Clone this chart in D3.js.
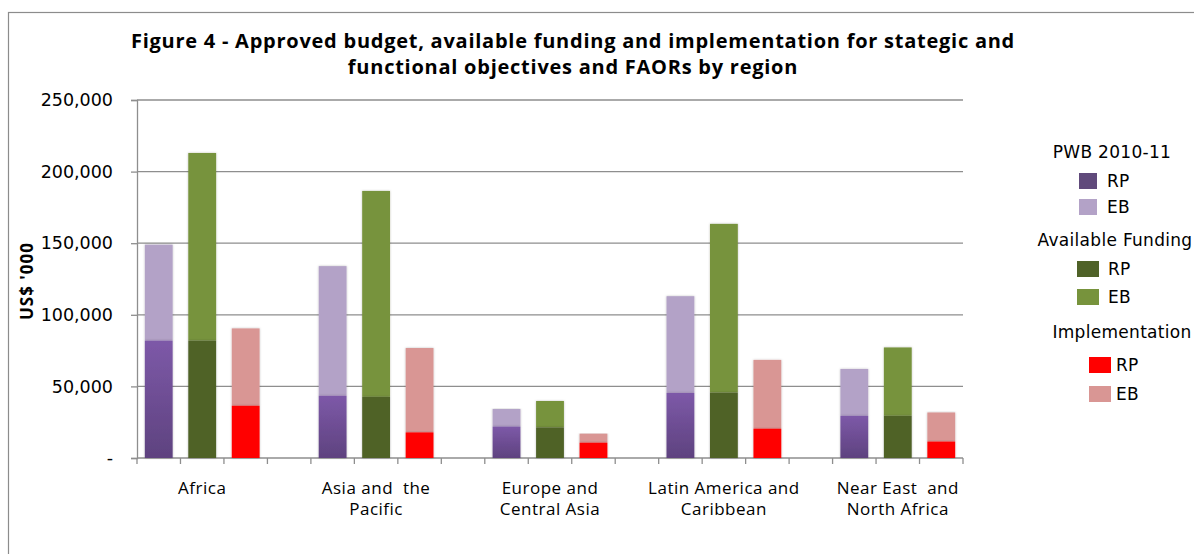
<html> <head>
<script src="https://d3js.org/d3.v7.min.js"></script>
<style>
  body { margin: 0; background: #fff; }
</style>
</head>
<body>
  <div id="chart"></div>
<script>

// data (US$ '000), EB values are the segment stacked on top of RP
const regions = [
  ['Africa'],
  ['Asia and  the', 'Pacific'],
  ['Europe and', 'Central Asia'],
  ['Latin America and', 'Caribbean'],
  ['Near East  and', 'North Africa']
];
const pwbRP   = [82000, 43500, 22000, 45500, 29500];
const pwbEB   = [67000, 90500, 12200, 67500, 32700];
const availRP = [82000, 42700, 21400, 45700, 29500];
const availEB = [131000, 143800, 18400, 117800, 47700];
const implRP  = [36500, 17900, 10700, 20500, 11500];
const implEB  = [54000, 58900, 6300, 48000, 20300];
const yTicks  = [0, 50000, 100000, 150000, 200000, 250000];

const series = [
  {name: 'PWB 2010-11', rp: pwbRP, eb: pwbEB, rpFill: 'url(#purpleGrad)', eb_c: '#b3a2c7', rpLegend: '#604a7b'},
  {name: 'Available Funding', rp: availRP, eb: availEB, rpFill: '#4f6228', eb_c: '#77933c', rpLegend: '#4f6228'},
  {name: 'Implementation', rp: implRP, eb: implEB, rpFill: '#ff0000', eb_c: '#d99694', rpLegend: '#ff0000'}
];

// constants
const W = 1194, H = 554;
const plot = {left: 137, right: 963, top: 100, bottom: 458};

const svg = d3.select('#chart').append('svg')
  .attr('width', W)
  .attr('height', H);

const defs = svg.append('defs');
const grad = defs.append('linearGradient')
  .attr('id', 'purpleGrad')
  .attr('x1', 0).attr('y1', 0).attr('x2', 0).attr('y2', 1);
grad.append('stop').attr('offset', '0%').attr('stop-color', '#7d59a8');
grad.append('stop').attr('offset', '100%').attr('stop-color', '#5e427f');

const shadow = defs.append('filter').attr('id', 'shadow')
  .attr('x', '-20%').attr('y', '-5%').attr('width', '140%').attr('height', '110%');
shadow.append('feDropShadow')
  .attr('dx', 0).attr('dy', 0).attr('stdDeviation', 1.2)
  .attr('flood-color', '#000').attr('flood-opacity', 0.25);

// frame
svg.append('rect')
  .attr('x', 8.5).attr('y', 12.5)
  .attr('width', W).attr('height', H)
  .style('fill', 'none')
  .style('stroke', '#8c8c8c')
  .style('stroke-width', 1.2);

// title
const title = svg.append('text')
  .attr('text-anchor', 'middle')
  .style('font-family', '"Open Sans", sans-serif')
  .style('font-weight', 'bold')
  .style('font-size', '20px')
  .style('letter-spacing', '0.75px')
  .style('fill', '#000');
title.append('tspan').attr('x', 573).attr('y', 48)
  .text('Figure 4 - Approved budget, available funding and implementation for stategic and');
title.append('tspan').attr('x', 573).attr('y', 74)
  .text('functional objectives and FAORs by region');

// scales
const nSlots = regions.length * 4 - 1;
const x = d3.scaleBand()
  .domain(d3.range(nSlots))
  .range([plot.left, plot.right])
  .paddingInner(0.36)
  .paddingOuter(0.18);
const y = d3.scaleLinear()
  .domain([0, 250000])
  .range([plot.bottom, plot.top]);

// gridlines
svg.append('g').selectAll('line')
  .data(yTicks.filter(d => d > 0))
  .join('line')
  .attr('x1', plot.left).attr('x2', plot.right)
  .attr('y1', d => y(d)).attr('y2', d => y(d))
  .style('stroke', '#8e8e8e')
  .style('stroke-width', 1.3);

// y axis
const yAxis = svg.append('g')
  .attr('transform', `translate(${plot.left},0)`)
  .call(d3.axisLeft(y)
    .tickValues(yTicks)
    .tickSize(6)
    .tickPadding(18)
    .tickFormat(d => d === 0 ? '-' : d3.format(',')(d)));
yAxis.select('.domain').style('stroke', '#8e8e8e').style('stroke-width', 1.3);
yAxis.selectAll('.tick line').style('stroke', '#8e8e8e').style('stroke-width', 1.3);
yAxis.selectAll('.tick text')
  .style('font-family', '"DejaVu Sans", sans-serif')
  .style('font-size', '17.5px')
  .style('fill', '#000');

// x axis
const step = x.step();
svg.append('line')
  .attr('x1', plot.left).attr('x2', plot.right)
  .attr('y1', plot.bottom).attr('y2', plot.bottom)
  .style('stroke', '#8e8e8e').style('stroke-width', 1.3);
svg.append('g').selectAll('line')
  .data(d3.range(nSlots + 1))
  .join('line')
  .attr('x1', d => plot.left + d * step).attr('x2', d => plot.left + d * step)
  .attr('y1', plot.bottom).attr('y2', plot.bottom + 6)
  .style('stroke', '#8e8e8e').style('stroke-width', 1.3);

// category labels
regions.forEach((lines, i) => {
  const cx = x(i * 4 + 1) + x.bandwidth() / 2;
  const t = svg.append('text')
    .attr('text-anchor', 'middle')
    .style('font-family', '"Open Sans", sans-serif')
    .style('font-size', '17px')
    .style('letter-spacing', '0.5px')
    .style('fill', '#000')
    .style('white-space', 'pre');
  lines.forEach((l, k) => {
    t.append('tspan').attr('x', cx).attr('y', 494 + k * 21).text(l);
  });
});

// y axis title
svg.append('text')
  .attr('transform', 'translate(33,281) rotate(-90)')
  .attr('text-anchor', 'middle')
  .style('font-family', '"Open Sans", sans-serif')
  .style('font-weight', 'bold')
  .style('font-size', '17px')
  .style('letter-spacing', '1px')
  .text("US$ '000");

// bars
const bars = svg.append('g');
series.forEach((s, j) => {
  regions.forEach((r, i) => {
    const slot = i * 4 + j;
    const rp = s.rp[i], eb = s.eb[i];
    bars.append('rect')
      .attr('x', x(slot))
      .attr('width', x.bandwidth())
      .attr('y', y(rp + eb))
      .attr('height', y(rp) - y(rp + eb))
      .attr('filter', 'url(#shadow)')
      .style('fill', s.eb_c);
    bars.append('rect')
      .attr('x', x(slot))
      .attr('width', x.bandwidth())
      .attr('y', y(rp))
      .attr('height', y(0) - y(rp))
      .attr('filter', 'url(#shadow)')
      .style('fill', s.rpFill);
  });
});

// legend
const legendLayout = [
  {hx: 1112, hy: 158, sx: 1079, ry: 173, ey: 199, tx: 1107},
  {hx: 1115, hy: 246, sx: 1077, ry: 261, ey: 289, tx: 1108},
  {hx: 1122, hy: 338, sx: 1089, ry: 357, ey: 386, tx: 1116}
];
const legend = svg.append('g')
  .style('font-family', '"DejaVu Sans", sans-serif')
  .style('font-size', '17px')
  .style('letter-spacing', '0.3px');
series.forEach((s, j) => {
  const L = legendLayout[j];
  const sw = j === 0 ? 18 : 22;
  legend.append('text').attr('x', L.hx).attr('y', L.hy)
    .attr('text-anchor', 'middle').text(s.name);
  legend.append('rect').attr('x', L.sx).attr('y', L.ry)
    .attr('width', sw).attr('height', 16).style('fill', s.rpLegend);
  legend.append('text').attr('x', L.tx).attr('y', L.ry + 14).text('RP');
  legend.append('rect').attr('x', L.sx).attr('y', L.ey)
    .attr('width', sw).attr('height', 16).style('fill', s.eb_c);
  legend.append('text').attr('x', L.tx).attr('y', L.ey + 14).text('EB');
});

</script> </body></html>
